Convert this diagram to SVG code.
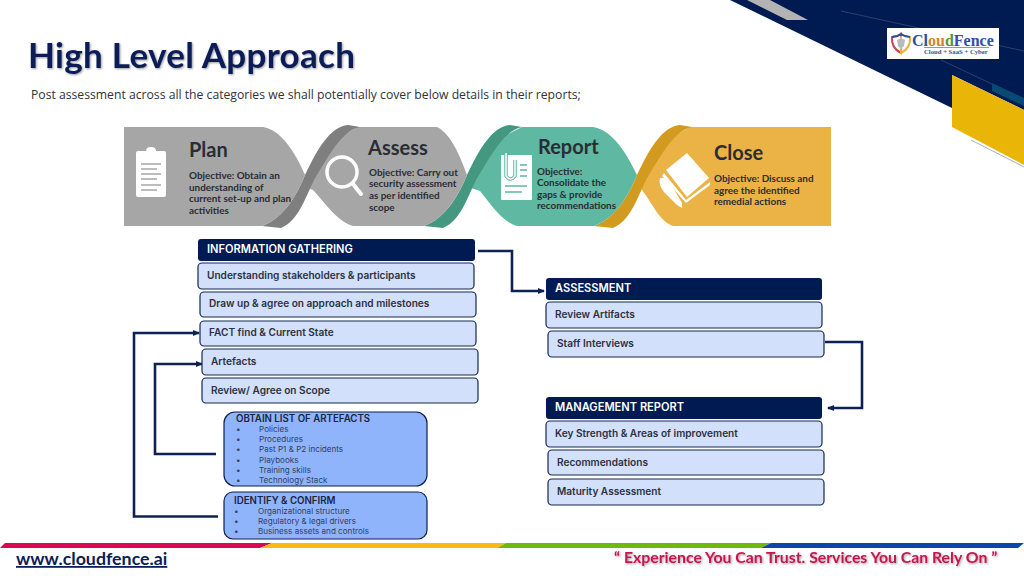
<svg xmlns="http://www.w3.org/2000/svg" width="1024" height="576" viewBox="0 0 1024 576">
<style>
text{font-family:"Inter","Open Sans","Liberation Sans",sans-serif;fill:#2c3040}
.h{font-family:"Lato","Open Sans",sans-serif;font-weight:700;font-size:20px;fill:#2a2d33}
.o{font-family:"Lato","Open Sans",sans-serif;font-weight:700;font-size:9.900px;fill:#2a2d33}
.bar{fill:#001a52}
.bt{font-size:11.100px;font-weight:600;fill:#fff}
.box{fill:#d2e0fb;stroke:#14294f;stroke-width:1.2}
.bl{font-size:10.100px;font-weight:600;fill:#2c3040}
.blue{fill:#8fb4fb;stroke:#0c2048;stroke-width:1.2}
.t{font-size:9.700px;font-weight:600;fill:#1c2540}
.li{font-size:8.100px;fill:#33405f}
.conn{fill:none;stroke:#0c2352;stroke-width:2.6}
.ic{fill:#fff}
.gr{fill:#a6a6a6}
</style>
<defs>
<marker id="arr" markerWidth="8" markerHeight="7" refX="6" refY="3" orient="auto" markerUnits="userSpaceOnUse"><path d="M0 0L7 3L0 6Z" fill="#0c2352"/></marker>
<filter id="sh" x="-5%" y="-20%" width="110%" height="140%"><feDropShadow dx="1" dy="1" stdDeviation="0.8" flood-color="#000" flood-opacity="0.4"/></filter>
<path id="band" d="M262 226C285 218 298 192 305 175C318 148 330 127 348 125L360 127C342 131 331 152 314 180C305 198 299 220 281 228Z"/>
</defs>

<g id="decor">
<polygon points="730,0 1024,0 1024,110 952,75 952,108" fill="#001a52"/>
<polygon points="747,0 770,0 808,20 787,20" fill="#b3b3b3"/>
<polygon points="952,75 1024,110 1024,165 952,127" fill="#e9b506"/>
<polygon points="992,83 1024,98 1024,106 992,91" fill="#0a4a72"/>
<path d="M841 11L1024 51M941 60L992 84" stroke="#4a5a85" stroke-width="0.6" fill="none"/>
<path d="M971 140L1024 167" stroke="#aab0bd" stroke-width="1" fill="none"/>
</g>

<g id="logo">
<rect x="887" y="28" width="112" height="31" fill="#fff"/>
<path d="M892 37Q897 37 901 34V53Q891 48 892 37Z" fill="#fff" stroke="#c9405a" stroke-width="2"/>
<path d="M901 34Q905 37 910 37Q911 48 901 53Z" fill="#fff" stroke="#e5b23a" stroke-width="2"/>
<path d="M892 37Q897 37 901 34Q905 37 910 37" fill="none" stroke="#2f4fa8" stroke-width="2"/>
<path d="M897 40L901 38L905 40L904 46L901 49L898 46Z" fill="#b9b9c4"/>
<text x="912" y="45.500" style="font-family:'Liberation Serif',serif;font-size:16px;font-weight:700;fill:#2f4fa8">Cl<tspan style="fill:#d0862a">ou</tspan><tspan style="fill:#4f9a3a">d</tspan>Fence</text>
<path d="M924 47.500H989" stroke="#c9405a" stroke-width="0.7"/>
<text x="924" y="53.500" style="font-family:'Liberation Serif',serif;font-size:6.700px;font-weight:700;fill:#2f4fa8">Cloud + SaaS + Cyber</text>
</g>

<g id="title">
<text x="28" y="68" filter="url(#sh)" style="font-family:'Lato',sans-serif;font-size:35px;font-weight:700;letter-spacing:.3px;fill:#0a1f57">High Level Approach</text>
<text x="31" y="99" style="font-family:'Open Sans',sans-serif;font-size:12.200px;fill:#30323a">Post assessment across all the categories we shall potentially cover below details in their reports;</text>
</g>

<g id="close">
<path d="M690 127H831V226H673C660 222 652 203 642 190L640 185L672 137Z" fill="#ebb345"/>
<use href="#band" transform="translate(332 0)" fill="#d29a1e"/>
<path d="M687 153L709 178L687 197L666 170Z" class="ic"/>
<path d="M664 173L686 200L710 182V185L686 203L662 176Z" class="ic"/>
<path d="M660 178Q665 176 672 186L682 203V208L677 205L664 192Q658 184 660 178Z" class="ic"/>
<text class="h" x="714" y="160">Close</text>
<text class="o" x="714" y="182">Objective: Discuss and</text>
<text class="o" x="714" y="194">agree the identified</text>
<text class="o" x="714" y="205">remedial actions</text>
</g>

<g id="report">
<path d="M522 127H593C612 130 626 152 637 175C630 192 617 218 594 226H517C502 222 490 203 480 191L468 187L474 180L502 137Z" fill="#5eb8a2"/>
<use href="#band" transform="translate(162 0)" fill="#43987f"/>
<rect class="ic" x="501" y="155" width="31" height="45" rx="1"/>
<path d="M506 153V176Q510.500 182 515 176V160" fill="none" stroke="#5eb8a2" stroke-width="3.500"/>
<path d="M506 153V176Q510.500 182 515 176V160" fill="none" stroke="#fff" stroke-width="1.500"/>
<path d="M520 165H527M520 170H527M520 176H527M505 186H527M505 192H522" stroke="#5eb8a2" stroke-width="1.300"/>
<text class="h" x="538" y="154">Report</text>
<text class="o" x="537" y="175">Objective:</text>
<text class="o" x="537" y="186">Consolidate the</text>
<text class="o" x="537" y="198">gaps  &amp; provide</text>
<text class="o" x="537" y="209">recommendations</text>
</g>

<g id="assess">
<path d="M358 127H437C450 133 460 155 467 175C460 192 447 218 424 226H353C338 222 325 203 313 190L305 187L312 180L340 137Z" class="gr"/>
<use href="#band" fill="#7f7f7f"/>
<circle cx="342" cy="172" r="15" fill="none" stroke="#fff" stroke-width="3.500"/>
<path d="M353 184L361 194" stroke="#fff" stroke-width="4" stroke-linecap="round"/>
<text class="h" x="368" y="155">Assess</text>
<text class="o" x="369" y="176">Objective: Carry out</text>
<text class="o" x="369" y="187">security assessment</text>
<text class="o" x="369" y="199">as per identified</text>
<text class="o" x="369" y="211">scope</text>
</g>

<g id="plan">
<path d="M124 127H263C281 130 295 152 305 175C298 192 285 218 262 226H124Z" class="gr"/>
<rect class="ic" x="136" y="151" width="30" height="46" rx="2"/>
<path d="M146 151Q146 147 151 147Q156 147 156 151Z" class="ic"/>
<path d="M141 164H161M141 169H157M141 174H161M141 179H157M141 185H161M141 190H157" stroke="#a6a6a6" stroke-width="1.500"/>
<text class="h" x="189" y="157">Plan</text>
<text class="o" x="189" y="179">Objective: Obtain an</text>
<text class="o" x="189" y="191">understanding of</text>
<text class="o" x="189" y="202">current  set-up and plan</text>
<text class="o" x="189" y="214">activities</text>
</g>

<g id="connectors">
<path class="conn" d="M478 251H512V291H544" marker-end="url(#arr)"/>
<path class="conn" d="M825 342H862V408H828" marker-end="url(#arr)"/>
<path class="conn" d="M218 516.500H134V333H199" marker-end="url(#arr)"/>
<path class="conn" d="M216 454H155V364H202" marker-end="url(#arr)"/>
</g>

<g id="n-info"><rect class="bar" x="198" y="239" width="277" height="22" rx="3"/><text class="bt" x="207" y="253">INFORMATION GATHERING</text></g>
<g id="n-stake"><rect class="box" x="198" y="263" width="276" height="26" rx="4"/><text class="bl" x="207" y="279">Understanding stakeholders &amp; participants</text></g>
<g id="n-draw"><rect class="box" x="200" y="292" width="276" height="25" rx="4"/><text class="bl" x="209" y="307">Draw up &amp; agree on approach and milestones</text></g>
<g id="n-fact"><rect class="box" x="200" y="321" width="276" height="25" rx="4"/><text class="bl" x="209" y="336">FACT find &amp; Current State</text></g>
<g id="n-art"><rect class="box" x="202" y="349" width="276" height="26" rx="4"/><text class="bl" x="211" y="365">Artefacts</text></g>
<g id="n-scope"><rect class="box" x="202" y="378" width="276" height="25" rx="4"/><text class="bl" x="211" y="394">Review/ Agree on Scope</text></g>

<g id="n-obtain">
<rect class="blue" x="224" y="412" width="203" height="74" rx="11"/>
<text class="t" x="236" y="422">OBTAIN LIST OF ARTEFACTS</text>
<text class="li" x="236" y="432">•</text><text class="li" x="259" y="432">Policies</text>
<text class="li" x="236" y="442">•</text><text class="li" x="259" y="442">Procedures</text>
<text class="li" x="236" y="452">•</text><text class="li" x="259" y="452">Past P1 &amp; P2 incidents</text>
<text class="li" x="236" y="463">•</text><text class="li" x="259" y="463">Playbooks</text>
<text class="li" x="236" y="473">•</text><text class="li" x="259" y="473">Training skills</text>
<text class="li" x="236" y="483">•</text><text class="li" x="259" y="483">Technology Stack</text>
</g>
<g id="n-identify">
<rect class="blue" x="224" y="492" width="203" height="47" rx="9"/>
<text class="t" x="234" y="504">IDENTIFY &amp; CONFIRM</text>
<text class="li" x="234" y="514">•</text><text class="li" x="258" y="514">Organizational structure</text>
<text class="li" x="234" y="524">•</text><text class="li" x="258" y="524">Regulatory &amp; legal drivers</text>
<text class="li" x="234" y="534">•</text><text class="li" x="258" y="534">Business assets and controls</text>
</g>

<g id="n-assessment"><rect class="bar" x="546" y="278" width="276" height="22" rx="3"/><text class="bt" x="555" y="292">ASSESSMENT</text></g>
<g id="n-review"><rect class="box" x="546" y="302" width="276" height="26" rx="4"/><text class="bl" x="555" y="318">Review Artifacts</text></g>
<g id="n-staff"><rect class="box" x="548" y="331" width="276" height="26" rx="4"/><text class="bl" x="557" y="347">Staff Interviews</text></g>
<g id="n-mgmt"><rect class="bar" x="546" y="397" width="276" height="22" rx="3"/><text class="bt" x="555" y="411">MANAGEMENT REPORT</text></g>
<g id="n-key"><rect class="box" x="546" y="421" width="276" height="26" rx="4"/><text class="bl" x="555" y="437">Key Strength &amp; Areas of improvement</text></g>
<g id="n-rec"><rect class="box" x="548" y="450" width="276" height="25" rx="4"/><text class="bl" x="557" y="466">Recommendations</text></g>
<g id="n-mat"><rect class="box" x="548" y="479" width="276" height="26" rx="4"/><text class="bl" x="557" y="495">Maturity Assessment</text></g>

<g id="footer">
<polygon points="0,548 5,543 272,543 260,548" fill="#d80b52"/>
<polygon points="260,548 272,543 506,543 497,548" fill="#fdb813"/>
<polygon points="497,548 506,543 771,543 761,548" fill="#72b80b"/>
<polygon points="761,548 771,543 1024,543 1018,548" fill="#0a47a8"/>
<text x="16" y="565" text-decoration="underline" style="font-family:'Lato',sans-serif;font-size:17.800px;font-weight:700;fill:#0a1f57">www.cloudfence.ai</text>
<text x="614" y="563" filter="url(#sh)" style="font-family:'Lato',sans-serif;font-size:15.800px;font-weight:700;fill:#c4164f">“ Experience You Can Trust. Services You Can Rely On ”</text>
</g>
</svg>
